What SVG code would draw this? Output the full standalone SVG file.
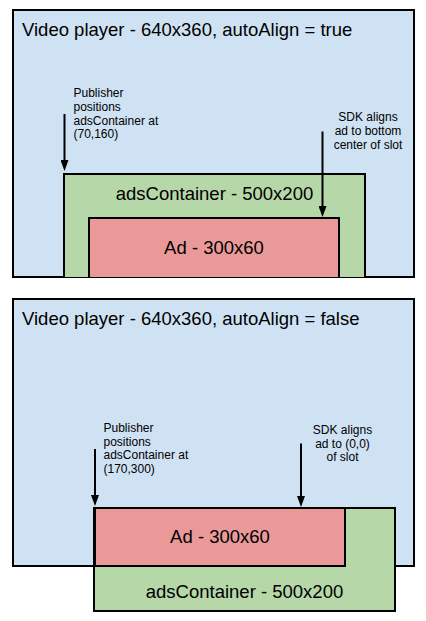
<svg xmlns="http://www.w3.org/2000/svg" width="426" height="621" viewBox="0 0 426 621">
<defs>
<style>
.player{fill:#cfe2f3;stroke:#000;stroke-width:2}
.cont{fill:#b6d7a8;stroke:#000;stroke-width:2}
.ad{fill:#ea9999;stroke:#000;stroke-width:2}
.big{font-family:"Liberation Sans",Arial,sans-serif;font-size:18.5px;fill:#000}
.small{font-family:"Liberation Sans",Arial,sans-serif;font-size:12px;fill:#000}
.mid{text-anchor:middle}
.conn line{stroke:#000;stroke-width:2}
</style>
<marker id="ah" viewBox="0 0 11 8" refX="6" refY="4" markerWidth="11" markerHeight="8" markerUnits="userSpaceOnUse" orient="auto">
<path d="M0,0 L11,4 L0,8 z" fill="#000"/>
</marker>
</defs>
<g id="player-true">
<rect class="player" x="13" y="10" width="401" height="267"/>
<text class="big" x="22" y="36">Video player - 640x360, autoAlign = true</text>
</g>
<g id="container-true">
<path class="cont" d="M64,277 V174 H365 V277"/>
<text class="big mid" x="214.5" y="199.5">adsContainer - 500x200</text>
</g>
<g id="ad-true">
<path class="ad" d="M89,277 V218 H339 V277"/>
<text class="big mid" x="214" y="253.5">Ad - 300x60</text>
</g>
<g id="label-publisher-true">
<text class="small" x="73.5" y="97">Publisher</text>
<text class="small" x="73.5" y="111">positions</text>
<text class="small" x="73.5" y="124.5">adsContainer at</text>
<text class="small" x="73.5" y="138">(70,160)</text>
</g>
<g id="label-sdk-true">
<text class="small mid" x="368" y="121">SDK aligns</text>
<text class="small mid" x="368" y="135">ad to bottom</text>
<text class="small mid" x="368" y="148.5">center of slot</text>
</g>
<g id="player-false">
<rect class="player" x="13" y="299" width="401" height="267"/>
<text class="big" x="22" y="324.5">Video player - 640x360, autoAlign = false</text>
</g>
<g id="container-false">
<rect class="cont" x="94" y="508" width="301" height="103"/>
<text class="big mid" x="244.5" y="597.5">adsContainer - 500x200</text>
</g>
<g id="ad-false">
<rect class="ad" x="95" y="508" width="250" height="58"/>
<text class="big mid" x="220" y="543">Ad - 300x60</text>
</g>
<g id="label-publisher-false">
<text class="small" x="103.5" y="431.5">Publisher</text>
<text class="small" x="103.5" y="445.5">positions</text>
<text class="small" x="103.5" y="459">adsContainer at</text>
<text class="small" x="103.5" y="472.5">(170,300)</text>
</g>
<g id="label-sdk-false">
<text class="small mid" x="342.5" y="433.5">SDK aligns</text>
<text class="small mid" x="342.5" y="447.5">ad to (0,0)</text>
<text class="small mid" x="342.5" y="461">of slot</text>
</g>
<g id="connectors" class="conn">
<line x1="64.5" y1="114" x2="64.5" y2="166" marker-end="url(#ah)"/>
<line x1="322.5" y1="131.5" x2="322.5" y2="212" marker-end="url(#ah)"/>
<line x1="95" y1="449" x2="95" y2="501" marker-end="url(#ah)"/>
<line x1="301" y1="443.5" x2="301" y2="502" marker-end="url(#ah)"/>
</g>
</svg>
